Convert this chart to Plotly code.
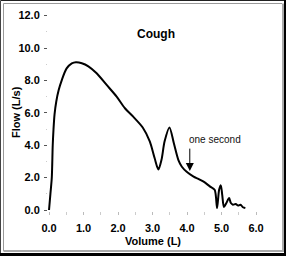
import plotly.graph_objects as go

# Flow-volume curve (cough)
volume = [0.0, 0.04, 0.08, 0.107, 0.13, 0.16, 0.21, 0.28, 0.37, 0.51, 0.66, 0.78, 0.95, 1.14, 1.38,
          1.67, 1.96, 2.2, 2.44, 2.72, 2.92, 3.06, 3.17, 3.26, 3.35, 3.49, 3.62, 3.75, 3.85,
          3.99, 4.19, 4.33, 4.48, 4.66, 4.8, 4.87, 4.93, 4.98, 5.02, 5.07, 5.14, 5.22, 5.27,
          5.33, 5.41, 5.48, 5.55, 5.62, 5.69]
flow = [0.0, 1.0, 2.0, 4.0, 5.0, 5.9, 6.7, 7.4, 8.02, 8.74, 9.05, 9.12, 9.06, 8.87, 8.44,
        7.72, 7.0, 6.28, 5.76, 5.08, 4.24, 3.21, 2.5, 3.1, 4.24, 5.1, 4.1, 3.08, 2.67,
        2.36, 2.06, 1.92, 1.75, 1.46, 1.25, 0.12, 1.25, 1.52, 0.94, 0.19, 0.43, 0.74, 0.43,
        0.33, 0.37, 0.27, 0.33, 0.17, 0.12]

x_ticks = [0, 1, 2, 3, 4, 5, 6]
x_labels = ["0.0", "1.0", "2.0", "3.0", "4.0", "5.0", "6.0"]
y_ticks = [0, 2, 4, 6, 8, 10, 12]
y_labels = ["0.0", "2.0", "4.0", "6.0", "8.0", "10.0", "12.0"]

title_text = "Cough"
note_text = "one second"
note_x, note_y = 4.08, 2.4
x_title = "Volume (L)"
y_title = "Flow (L/s)"

W, H = 286, 256
ML, MR, MT, MB = 48, 20, 8, 45
PW, PH = W - ML - MR, H - MT - MB

FONT = "Liberation Sans, Arial, sans-serif"


def px(xp):
    return (xp - ML) / PW


def py(yp):
    return (H - MB - yp) / PH


fig = go.Figure()
fig.add_trace(go.Scatter(x=volume, y=flow, mode="lines",
                         line=dict(color="black", width=2, shape="spline", smoothing=0.8),
                         showlegend=False, hoverinfo="skip"))

fig.update_layout(
    width=W, height=H,
    margin=dict(l=ML, r=MR, t=MT, b=MB, pad=0),
    paper_bgcolor="white", plot_bgcolor="white",
    font=dict(family=FONT, color="black"),
    xaxis=dict(range=[-0.03, 6.289], tickvals=x_ticks, ticktext=x_labels,
               showgrid=False, zeroline=False, showline=False,
               ticks="outside", ticklen=3, tickcolor="#bbbbbb", tickwidth=1,
               ticklabelstandoff=4,
               minor=dict(dtick=0.5, tick0=0, ticks="outside", ticklen=3, tickcolor="#cccccc", showgrid=False),
               tickfont=dict(size=11, weight="bold", family=FONT)),
    yaxis=dict(range=[-0.062, 12.469], tickvals=y_ticks, ticktext=y_labels,
               showgrid=False, zeroline=False, showline=False,
               ticks="outside", ticklen=3, tickcolor="#555555", tickwidth=1,
               ticklabelstandoff=2,
               minor=dict(dtick=1, tick0=0, ticks="outside", ticklen=1, tickcolor="#cccccc", showgrid=False),
               tickfont=dict(size=11, weight="bold", family=FONT)),
)

fig.add_annotation(x=3.10, y=10.86, text=title_text, showarrow=False,
                   xanchor="center", yanchor="middle",
                   font=dict(size=12, weight="bold", family=FONT))
fig.add_annotation(x=4.8, y=4.34, text=note_text, showarrow=False,
                   xanchor="center", yanchor="middle",
                   font=dict(size=10, family=FONT, color="#111111"))
fig.add_annotation(x=note_x, y=note_y, text="", showarrow=True, ax=0, ay=-24,
                   arrowhead=2, arrowsize=1.6, arrowwidth=1, arrowcolor="black")
fig.add_annotation(xref="paper", yref="paper", x=px(16), y=py(112), text=y_title,
                   showarrow=False, textangle=-90, xanchor="center", yanchor="middle",
                   font=dict(size=11, weight="bold", family=FONT))
fig.add_annotation(xref="paper", yref="paper", x=px(153), y=py(241), text=x_title,
                   showarrow=False, xanchor="center", yanchor="middle",
                   font=dict(size=11, weight="bold", family=FONT))

# frame
frame = [
    # outer dark border
    (0.5, 0.5, 285, 0.5, "#222222", 1),
    (0.5, 0.5, 0.5, 255, "#444444", 1),
    (285, 0, 285, 256, "black", 2),
    (0, 254.5, 286, 254.5, "black", 3),
    # inner gray line
    (3.5, 3.5, 282, 3.5, "#9a9a9a", 1),
    (3.5, 3.5, 3.5, 251, "#9a9a9a", 1),
    (283, 3.5, 283, 252, "#aaaaaa", 2),
    (3.5, 251, 284, 251, "#aaaaaa", 2),
]
for x0, y0, x1, y1, c, w in frame:
    fig.add_shape(type="line", xref="paper", yref="paper",
                  x0=px(x0), y0=py(y0), x1=px(x1), y1=py(y1),
                  line=dict(color=c, width=w), layer="above")

fig.write_html("out.html")
